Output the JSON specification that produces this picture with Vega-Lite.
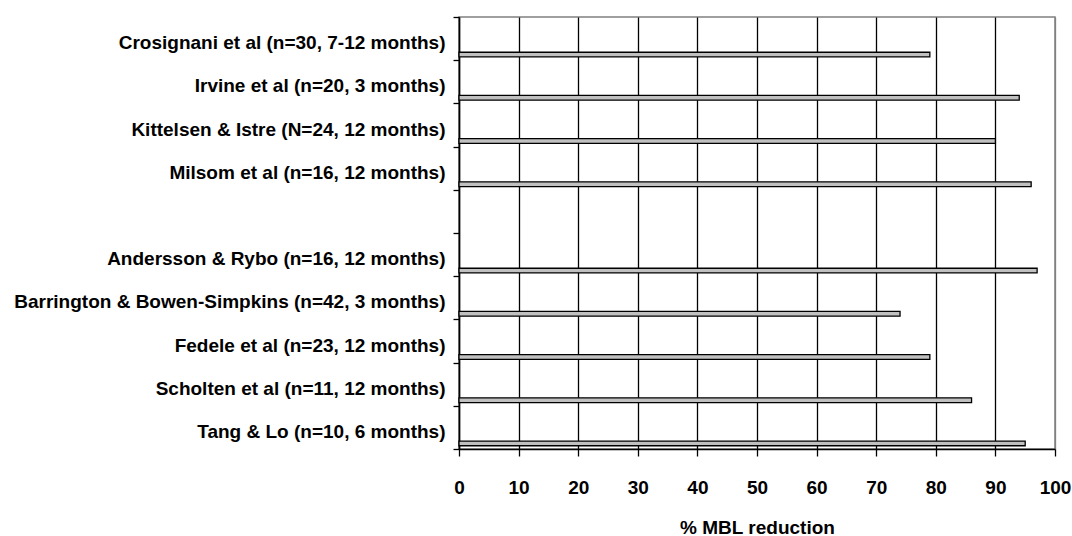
{
  "$schema": "https://vega.github.io/schema/vega-lite/v6.json",
  "width": 596,
  "height": 432,
  "autosize": {"type": "none"},
  "padding": {"left": 459, "top": 17, "right": 17, "bottom": 87},
  "background": "white",
  "config": {
    "font": "Liberation Sans",
    "view": {"stroke": "#808080", "strokeWidth": 1.5}
  },
  "data": {
    "values": [
      {"study": "Crosignani et al (n=30, 7-12 months)", "value": 79},
      {"study": "Irvine et al (n=20, 3 months)", "value": 94},
      {"study": "Kittelsen & Istre (N=24, 12 months)", "value": 90},
      {"study": "Milsom et al (n=16, 12 months)", "value": 96},
      {"study": "Andersson & Rybo (n=16, 12 months)", "value": 97},
      {"study": "Barrington & Bowen-Simpkins (n=42, 3 months)", "value": 74},
      {"study": "Fedele et al (n=23, 12 months)", "value": 79},
      {"study": "Scholten et al (n=11, 12 months)", "value": 86},
      {"study": "Tang & Lo (n=10, 6 months)", "value": 95}
    ]
  },
  "mark": {
    "type": "bar",
    "height": 4.7,
    "yOffset": 16,
    "fill": "#c0c0c0",
    "stroke": "black",
    "strokeWidth": 1.3
  },
  "encoding": {
    "y": {
      "field": "study",
      "type": "nominal",
      "sort": null,
      "scale": {
        "domain": [
          "Crosignani et al (n=30, 7-12 months)",
          "Irvine et al (n=20, 3 months)",
          "Kittelsen & Istre (N=24, 12 months)",
          "Milsom et al (n=16, 12 months)",
          " ",
          "Andersson & Rybo (n=16, 12 months)",
          "Barrington & Bowen-Simpkins (n=42, 3 months)",
          "Fedele et al (n=23, 12 months)",
          "Scholten et al (n=11, 12 months)",
          "Tang & Lo (n=10, 6 months)"
        ],
        "paddingInner": 0,
        "paddingOuter": 0
      },
      "axis": {
        "title": null,
        "grid": false,
        "tickBand": "extent",
        "domainColor": "black",
        "domainWidth": 1.5,
        "tickColor": "black",
        "tickWidth": 1.3,
        "tickSize": 6,
        "labelPadding": 8,
        "labelOffset": 4,
        "labelFont": "Liberation Sans",
        "labelFontSize": 19,
        "labelFontWeight": "bold",
        "labelColor": "black",
        "labelLimit": 600
      }
    },
    "x": {
      "field": "value",
      "type": "quantitative",
      "scale": {"domain": [0, 100], "nice": false},
      "axis": {
        "title": "% MBL reduction",
        "values": [0, 10, 20, 30, 40, 50, 60, 70, 80, 90, 100],
        "grid": true,
        "gridColor": {"condition": {"test": "datum.value == 100", "value": "#808080"}, "value": "black"},
        "gridWidth": 1.3,
        "gridOpacity": 1,
        "domainColor": "black",
        "domainWidth": 1.5,
        "tickColor": "black",
        "tickWidth": 1.3,
        "tickSize": 7,
        "labelPadding": 22,
        "labelFont": "Liberation Sans",
        "labelFontSize": 19,
        "labelFontWeight": "bold",
        "labelColor": "black",
        "labelFlush": false,
        "titleFont": "Liberation Sans",
        "titleFontSize": 19,
        "titleFontWeight": "bold",
        "titleColor": "black",
        "titlePadding": 21
      }
    }
  }
}
